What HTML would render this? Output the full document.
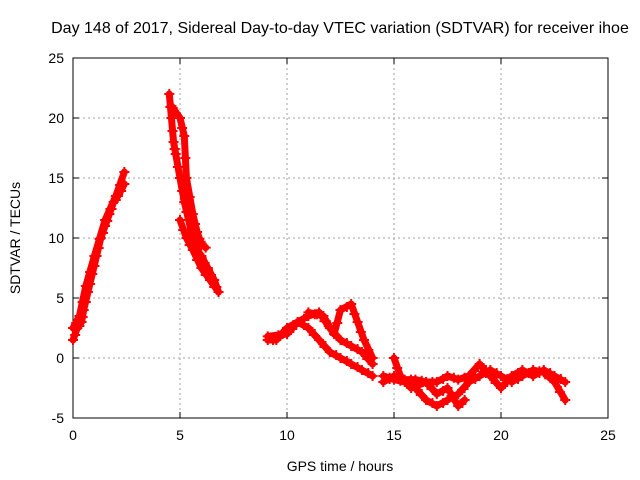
<!DOCTYPE html>
<html><head><meta charset="utf-8"><style>
body{margin:0;background:#fff}
svg{display:block;font-family:"Liberation Sans",sans-serif}
</style></head><body>
<svg id="c" width="640" height="480"></svg>
<script>
const xTicks=[0,5,10,15,20,25];
const yTicks=[-5,0,5,10,15,20,25];
const track1t=[0,0.2,0.4,0.5,0.7,0.9,1.1,1.3,1.5,1.7,1.9,2.1,2.4];
const track1v=[1.5,2.5,3,4,5.5,7,8.5,10,11,12,13,13.5,14.5];
const track2t=[0,0.3,0.6,1.0,1.5,2.0,2.4];
const track2v=[2.5,3.5,6,8.5,11.5,13.5,15.5];
const track3t=[4.5,4.6,4.7,4.8,5.0,5.2,5.4,5.6,5.8,6.0,6.3,6.6,6.8];
const track3v=[22,20,18,17,15,13,11.5,10,9,8.5,7.5,6.5,5.5];
const track4t=[4.6,5.0,5.2,5.3,5.6,5.8,6.0,6.2];
const track4v=[21,20,18.5,15,12,10.5,9.5,9.2];
const track5t=[5.0,5.3,5.6,6.0,6.4,6.8];
const track5v=[11.5,10,9,7.5,6.5,5.5];
const track6t=[9.1,9.5,10,10.5,11,11.5,12,12.5,13,13.5,14];
const track6v=[1.5,1.5,2.5,3,3.5,3.8,2.5,1.5,1,0.5,-0.5];
const track7t=[9.1,10,10.5,11,11.5,12,12.5,13,13.5,14];
const track7v=[1.8,2,3,2.5,1.5,0.5,0,-0.5,-1,-1.5];
const track8t=[11,11.7,12.2,12.5,13,13.3,13.6,14];
const track8v=[3.8,3.5,2,4,4.5,3,1.5,0];
const track9t=[14.5,15,15.5,16,16.5,17,17.5,18,18.5,19,19.5,20,20.5,21,21.5,22,22.5,23];
const track9v=[-1.5,-1.8,-2,-2.5,-3.5,-4,-3.5,-3,-2,-1.5,-1,-1.5,-2,-1.5,-1,-1.2,-2,-3.5];
const track10t=[14.5,15,15.5,16,16.5,17,17.5,18,18.5,19,19.5,20,20.5,21,21.5,22,22.5,23];
const track10v=[-2,-1.5,-1.8,-1.8,-2,-2,-1.5,-1.8,-1.5,-0.5,-1.5,-2.5,-1.5,-1,-1.5,-1,-1.5,-2];
const track11t=[15,15.3,15.8,16.5,17,17.5,18,18.3];
const track11v=[0,-1.5,-2.5,-2,-3,-2.5,-4,-3.5];
const tracks=[[track1t,track1v],[track2t,track2v],[track3t,track3v],[track4t,track4v],[track5t,track5v],[track6t,track6v],[track7t,track7v],[track8t,track8v],[track9t,track9v],[track10t,track10v],[track11t,track11v]];

const L=73,R=608,T=58,B=418;
const sx=t=>L+(t-0)/(25-0)*(R-L);
const sy=v=>B-(v+5)/(30)*(B-T);
const svg=document.getElementById('c');
const NS='http://www.w3.org/2000/svg';
function mk(tag,attrs){const e=document.createElementNS(NS,tag);for(const k in attrs)e.setAttribute(k,attrs[k]);svg.appendChild(e);return e;}

let e=mk('text',{x:340,y:33,'text-anchor':'middle','font-size':'16',fill:'#000'});
e.textContent='Day 148 of 2017, Sidereal Day-to-day VTEC variation (SDTVAR) for receiver ihoe';



xTicks.forEach(t=>{
  const x=sx(t);
  if(t>0&&t<25){let g=mk('line',{x1:x,y1:T,x2:x,y2:B,stroke:'#a0a0a0','stroke-dasharray':'2,3'});
  
  }
  mk('line',{x1:x,y1:B,x2:x,y2:B-6,stroke:'#000'});mk('line',{x1:x,y1:T,x2:x,y2:T+6,stroke:'#000'});
  let l=mk('text',{x:x,y:B+22,'text-anchor':'middle','font-size':'14'});l.textContent=t;
  
  
});
yTicks.forEach(v=>{
  const y=sy(v);
  if(v>-5&&v<25){let g=mk('line',{x1:L,y1:y,x2:R,y2:y,stroke:'#a0a0a0','stroke-dasharray':'2,3'});
  
  }
  mk('line',{x1:L,y1:y,x2:L+6,y2:y,stroke:'#000'});mk('line',{x1:R,y1:y,x2:R-6,y2:y,stroke:'#000'});
  let l=mk('text',{x:L-9,y:y+5,'text-anchor':'end','font-size':'14'});l.textContent=v;
  
  
});
e=mk('rect',{x:L,y:T,width:R-L,height:B-T,fill:'none',stroke:'#000'});



tracks.forEach(([ts,vs])=>{
  const pts=ts.map((t,i)=>sx(t)+','+sy(vs[i])).join(' ');
  const p=mk('polyline',{points:pts,fill:'none',stroke:'#f00','stroke-width':7,'stroke-linejoin':'round','stroke-linecap':'round'});
  
  
  ts.forEach((t,i)=>{
    const x=sx(t),y=sy(vs[i]);
    const m=mk('path',{d:`M${x-5},${y}H${x+5}M${x},${y-5}V${y+5}`,stroke:'#f00','stroke-width':2});
    
    
    if(i<ts.length-1){
      const x2=(x+sx(ts[i+1]))/2,y2=(y+sy(vs[i+1]))/2;
      const m2=mk('path',{d:`M${x2-5},${y2+1}H${x2+5}M${x2+1},${y2-5}V${y2+5}`,stroke:'#f00','stroke-width':2});
      
      
    }
  });
});

e=mk('text',{x:340,y:471,'text-anchor':'middle','font-size':'14'});e.textContent='GPS time / hours';


e=mk('text',{x:20,y:238,'text-anchor':'middle','font-size':'14',transform:'rotate(-90 20 238)'});e.textContent='SDTVAR / TECUs';


</script>
</body></html>
